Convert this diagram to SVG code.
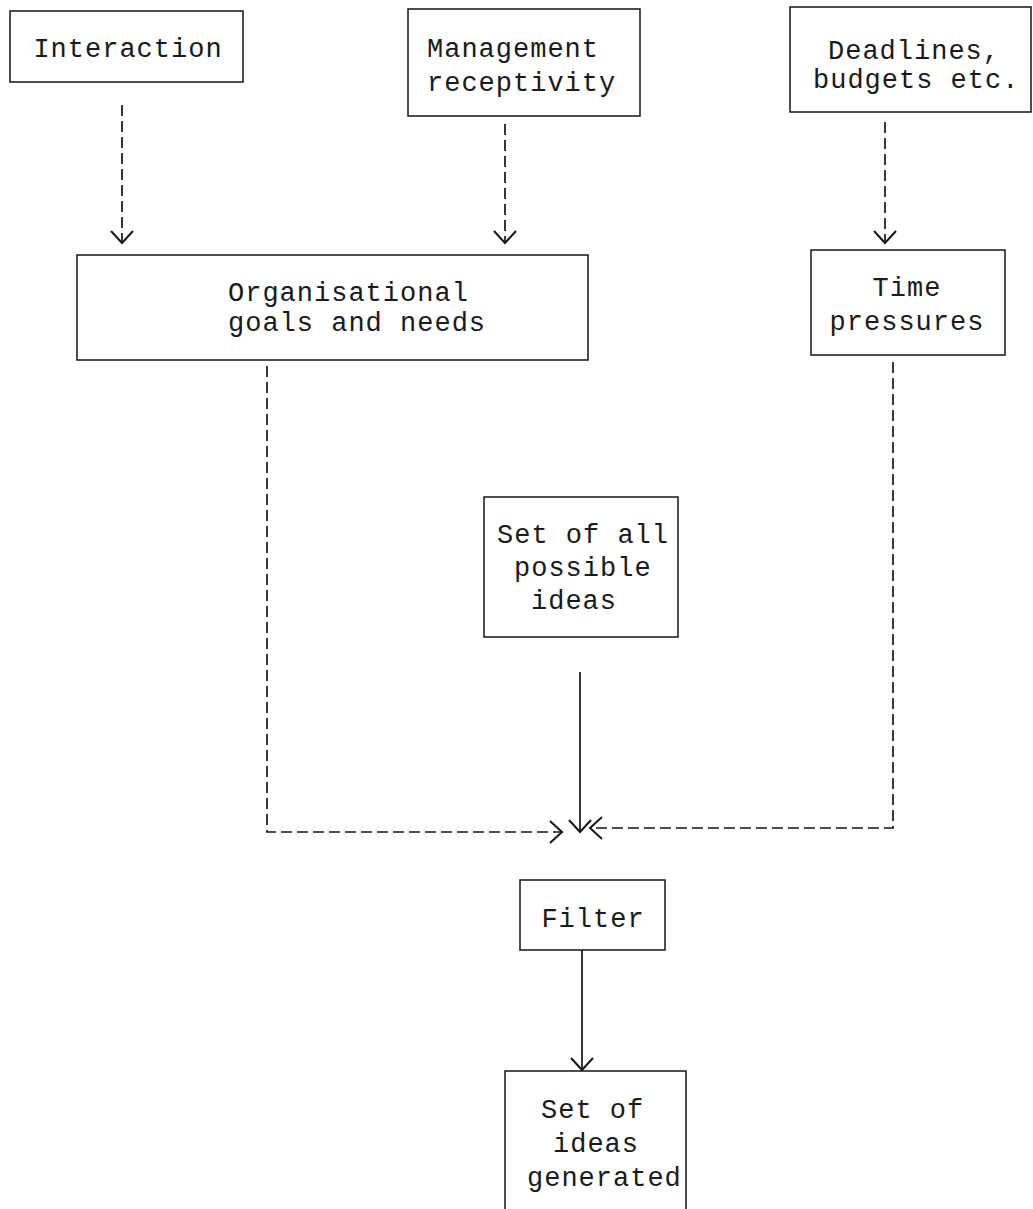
<svg xmlns="http://www.w3.org/2000/svg" width="1033" height="1209" viewBox="0 0 1033 1209">
  <style>
    .box { fill: none; stroke: #151515; stroke-width: 1.5; }
    .lbl { font-family: "Liberation Mono", "DejaVu Sans Mono", monospace; font-size: 27px; letter-spacing: 1px; fill: #1a1a1a; }
    .mid { text-anchor: middle; }
    .dash { fill: none; stroke: #151515; stroke-width: 1.7; stroke-dasharray: 11 5; }
    .solid { fill: none; stroke: #151515; stroke-width: 1.7; }
  </style>
  <defs>
    <!-- open V arrowhead, shared by dashed and solid connectors -->
    <marker id="vee" viewBox="-14 -13 16 26" markerWidth="16" markerHeight="26" refX="0" refY="0" orient="auto" markerUnits="userSpaceOnUse">
      <path d="M-12,-11 L0,0 L-12,11" fill="none" stroke="#151515" stroke-width="2" stroke-dasharray="none"/>
    </marker>
  </defs>

  <rect width="1033" height="1209" fill="#ffffff"/>

  <!-- connectors -->
  <g id="connectors">
    <path class="dash" d="M122,105 V243" marker-end="url(#vee)"/>
    <path class="dash" d="M505,124 V243" marker-end="url(#vee)"/>
    <path class="dash" d="M885,122 V243" marker-end="url(#vee)"/>
    <path class="dash" d="M267,366 V832 H562" marker-end="url(#vee)"/>
    <path class="dash" d="M893,362 V828 H590" marker-end="url(#vee)"/>
    <path class="solid" d="M580,672 V832" marker-end="url(#vee)"/>
    <path class="solid" d="M582,950 V1070" marker-end="url(#vee)"/>
  </g>

  <!-- nodes -->
  <g id="interaction">
    <rect class="box" x="10" y="11" width="233" height="71"/>
    <text class="lbl mid" x="128" y="57">Interaction</text>
  </g>

  <g id="management">
    <rect class="box" x="408" y="9" width="232" height="107"/>
    <text class="lbl" x="427" y="57">Management</text>
    <text class="lbl" x="427" y="91">receptivity</text>
  </g>

  <g id="deadlines">
    <rect class="box" x="790" y="7" width="241" height="105"/>
    <text class="lbl" x="828" y="59">Deadlines,</text>
    <text class="lbl" x="813" y="88">budgets etc.</text>
  </g>

  <g id="org-goals">
    <rect class="box" x="77" y="255" width="511" height="105"/>
    <text class="lbl" x="228" y="301">Organisational</text>
    <text class="lbl" x="228" y="331">goals and needs</text>
  </g>

  <g id="time-pressures">
    <rect class="box" x="811" y="250" width="194" height="105"/>
    <text class="lbl mid" x="907" y="296">Time</text>
    <text class="lbl mid" x="907" y="330">pressures</text>
  </g>

  <g id="all-ideas">
    <rect class="box" x="484" y="497" width="194" height="140"/>
    <text class="lbl" x="497" y="543">Set of all</text>
    <text class="lbl" x="514" y="576">possible</text>
    <text class="lbl" x="531" y="609">ideas</text>
  </g>

  <g id="filter">
    <rect class="box" x="520" y="880" width="145" height="70"/>
    <text class="lbl mid" x="593" y="927">Filter</text>
  </g>

  <g id="ideas-generated">
    <path class="box" d="M505,1209 V1071 H686 V1209"/>
    <text class="lbl" x="541" y="1118">Set of</text>
    <text class="lbl" x="553" y="1152">ideas</text>
    <text class="lbl" x="527" y="1186">generated</text>
  </g>
</svg>
